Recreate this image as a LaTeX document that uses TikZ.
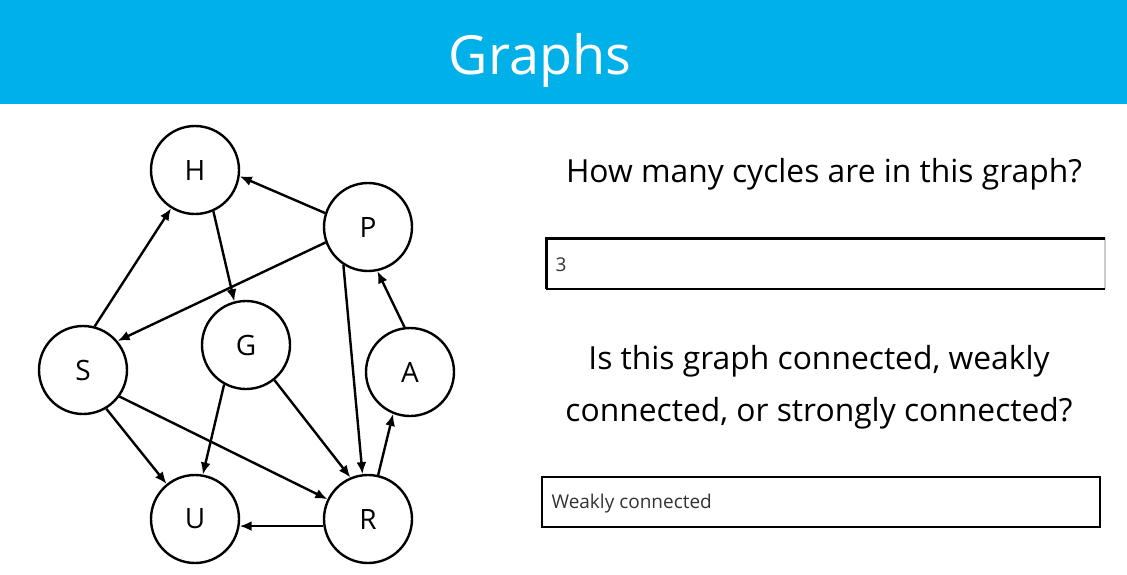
\documentclass[tikz,border=0pt]{standalone}
\usepackage{fontspec}
\setmainfont{Open Sans}
\usetikzlibrary{arrows.meta}
\definecolor{banner}{HTML}{00B0E8}
\definecolor{fieldtext}{HTML}{333333}
\begin{document}
\begin{tikzpicture}[x=1pt,y=-1pt,
  vertex/.style={circle,draw,line width=2.4pt,minimum size=88pt,inner sep=0pt,
    font=\fontsize{28}{30}\selectfont},
  edge/.style={line width=2.4pt,-{Latex[length=12pt,width=10pt]}},
  question/.style={font=\fontsize{31.8}{52}\selectfont,align=center},
  answer/.style={font=\fontsize{19}{22}\selectfont,text=fieldtext,anchor=west}]
\useasboundingbox (0,0) rectangle (1127,574);
\fill[white] (0,0) rectangle (1127,574);
% title banner
\fill[banner] (0,0) rectangle (1127,104);
\node[text=white,font=\fontsize{54}{60}\selectfont] (title) at (540,60) {Graphs};

% vertices
\node[vertex] (H) at (195,170) {H};
\node[vertex] (P) at (368,227) {P};
\node[vertex] (S) at (83,370) {S};
\node[vertex] (G) at (246,345) {G};
\node[vertex] (A) at (410,372) {A};
\node[vertex] (U) at (195,519) {U};
\node[vertex] (R) at (368,519) {R};

% directed edges, leaving and entering the circles at fixed angles
\draw[edge] (P.162) -- (H.352);
\draw[edge] (S.75)  -- (H.238);
\draw[edge] (H.294) -- (G.105);
\draw[edge] (P.200) -- (S.40);
\draw[edge] (P.237) -- (R.97);
\draw[edge] (A.97)  -- (P.282);
\draw[edge] (R.77)  -- (A.248);
\draw[edge] (G.241) -- (U.80);
\draw[edge] (G.309) -- (R.113);
\draw[edge] (S.301) -- (U.129);
\draw[edge] (S.324) -- (R.154);
\draw[edge] (R.189) -- (U.351);

% first question and answer field
\node[question] (q1) at (824,174) {How many cycles are in this graph?};
\coordinate (b1tl) at (546,238);
\coordinate (b1br) at (1105,289);
\draw[black!20,line width=1.5pt] (b1tl -| b1br) -- (b1br);
\draw[black,line width=3pt] (b1tl |- b1br) -- (b1tl) -- (b1tl -| b1br);
\draw[black,line width=2pt] (b1tl |- b1br) -- (b1br);
\node[answer] (a1) at (552,265) {3};

% second question and answer field
\node[question] (q2) at (819,387) {Is this graph connected, weakly\\connected, or strongly connected?};
\draw[black,line width=2pt] (542,477) rectangle (1100,527);
\node[answer] (a2) at (548,504) {Weakly connected};
\end{tikzpicture}
\end{document}
